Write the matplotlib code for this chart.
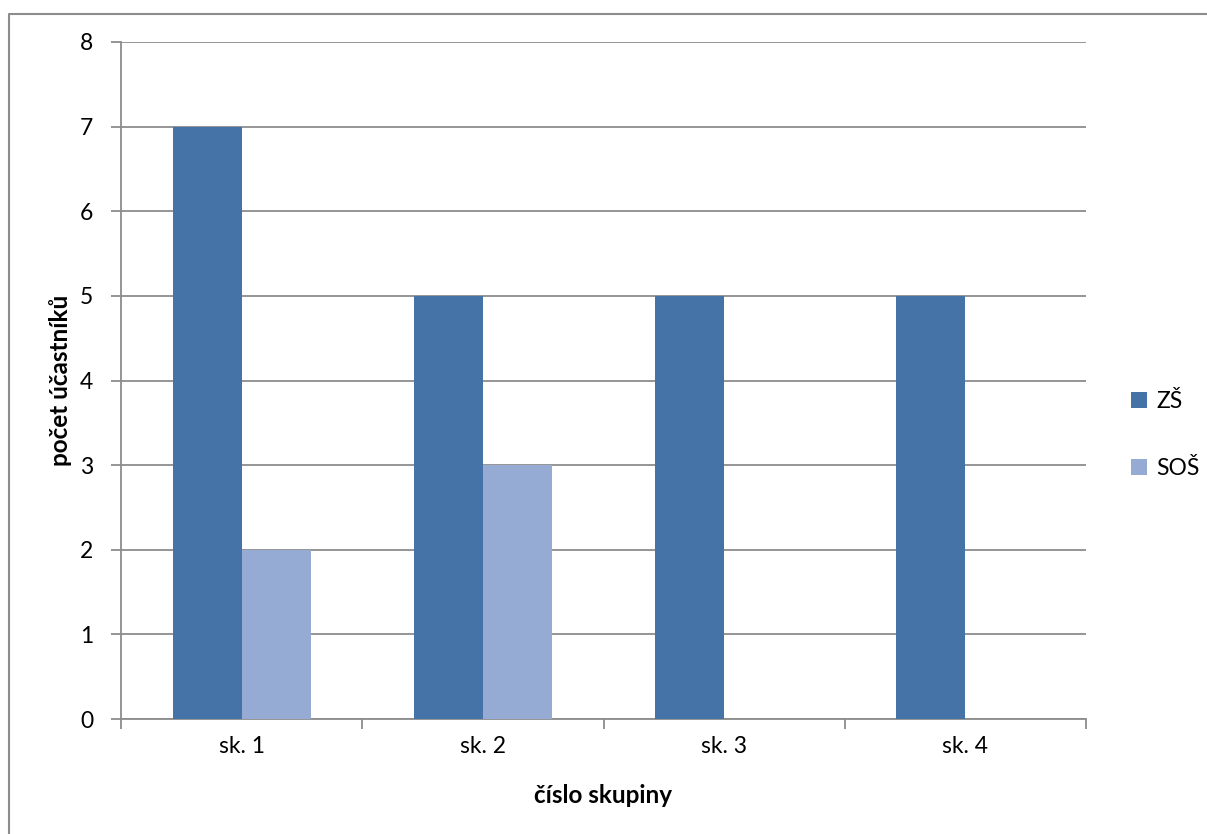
import numpy as np
import matplotlib.pyplot as plt
from matplotlib.lines import Line2D

groups = ["sk. 1", "sk. 2", "sk. 3", "sk. 4"]
zs = [7, 5, 5, 5]
sos = [2, 3, 0, 0]
series_names = ["ZŠ", "SOŠ"]
yticks = [0, 1, 2, 3, 4, 5, 6, 7, 8]

plt.rcParams['font.family'] = ['Lato', 'DejaVu Sans']

W, H = 1207, 834
fig = plt.figure(figsize=(W / 100, H / 100), dpi=100)

# outer chart-area border: only top and left edges fall inside the picture
bx, by = 8.5 / W, 1 - 13.5 / H
fig.lines.append(Line2D([bx, bx, 1.0], [0.0, by, by], transform=fig.transFigure,
                        color="#8c8c8c", linewidth=1.5))

ax = fig.add_axes([121 / W, 1 - 719 / H, (1086 - 121) / W, (719 - 42) / H])

x = np.arange(len(groups))
bw = 0.286
ax.bar(x - bw / 2, zs, bw, color="#4673A7", label=series_names[0], zorder=3)
ax.bar(x + bw / 2, sos, bw, color="#95ABD3", label=series_names[1], zorder=3)

ax.set_xlim(-0.5, len(groups) - 0.5)
ax.set_ylim(0, 8)
ax.set_yticks(yticks)
ax.yaxis.grid(True, color="#8c8c8c", linewidth=1.3, zorder=0)

ax.set_xticks(x)
ax.set_xticklabels(groups, fontsize=16.5)
ax.tick_params(axis="x", length=0, pad=12)
ax.set_xticks(np.arange(len(groups) + 1) - 0.5, minor=True)
ax.tick_params(axis="x", which="minor", length=7, direction="out", color="#8c8c8c", width=1.3)
ax.tick_params(axis="y", length=7, direction="out", color="#8c8c8c", width=1.3,
               labelsize=16.5, pad=13)

for s in ["top", "right"]:
    ax.spines[s].set_visible(False)
for s in ["left", "bottom"]:
    ax.spines[s].set_color("#8c8c8c")
    ax.spines[s].set_linewidth(1.3)

ax.set_ylabel("počet účastníků", fontsize=17.5, fontweight="bold", labelpad=6)
ax.set_xlabel("číslo skupiny", fontsize=17.5, fontweight="bold", labelpad=20)

ax.legend(loc="center left", bbox_to_anchor=(1.025, 0.42), frameon=False, fontsize=16.5,
          handlelength=0.7, handleheight=0.7, handletextpad=0.4, labelspacing=2.0)

fig.savefig("out.png", dpi=100)
